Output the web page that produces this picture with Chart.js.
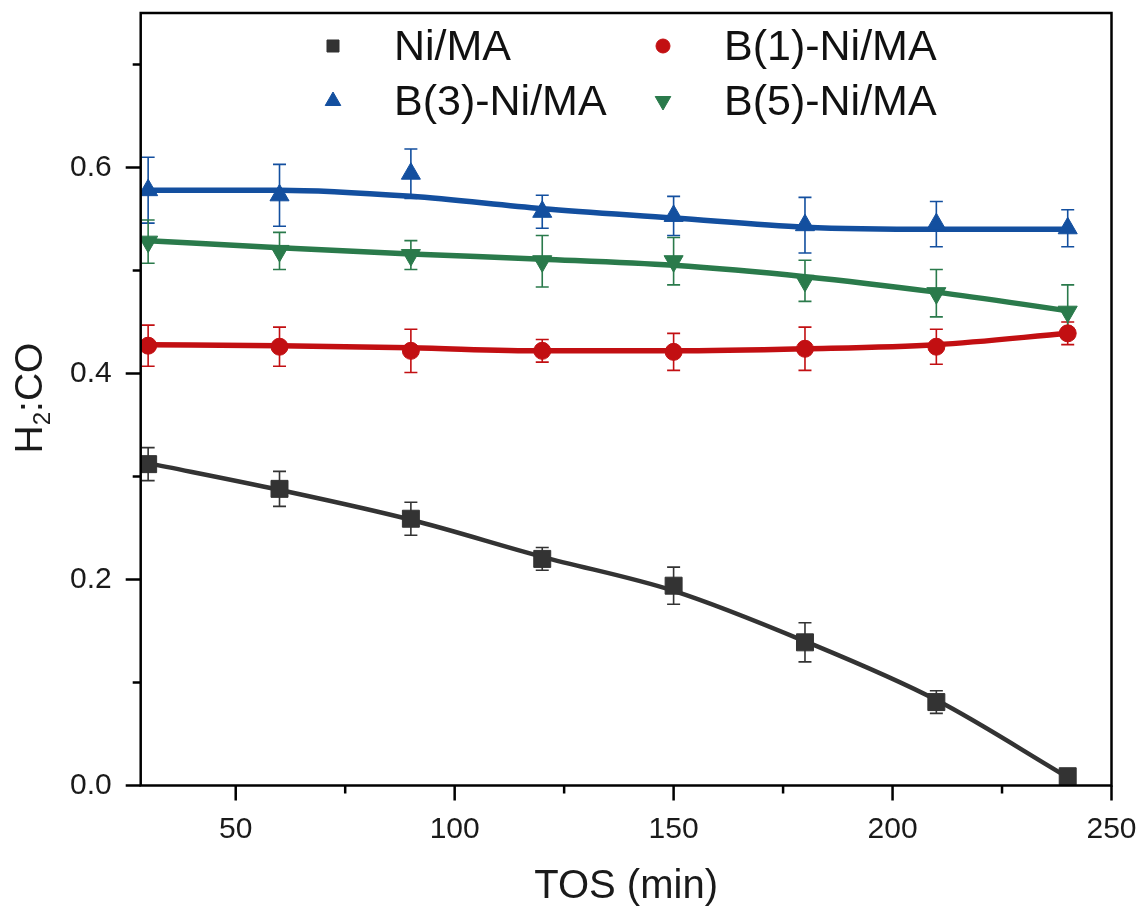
<!DOCTYPE html>
<html>
<head>
<meta charset="utf-8">
<script src="https://cdn.jsdelivr.net/npm/chart.js@4.4.1/dist/chart.umd.min.js"></script>
<style>
  html, body { margin: 0; padding: 0; background: #fff; }
  #wrap { width: 1147px; height: 907px; position: relative; }
</style>
</head>
<body>
<div id="wrap"><canvas id="chart"></canvas></div>
<script>
// time on stream (min)
const tos = [30, 60, 90, 120, 150, 180, 210, 240];

// H2:CO ratio, error and the smoothed line, per catalyst
const niMA    = [0.312, 0.288, 0.259, 0.220, 0.194, 0.139, 0.081, 0.009];
const niMAErr = [0.016, 0.017, 0.016, 0.011, 0.018, 0.019, 0.011, 0.003];
const niMAFit = [0.313, 0.287, 0.258, 0.222, 0.189, 0.140, 0.083, 0.008];

const b1    = [0.427, 0.426, 0.422, 0.422, 0.421, 0.424, 0.426, 0.439];
const b1Err = [0.020, 0.019, 0.021, 0.011, 0.018, 0.021, 0.017, 0.011];
const b1Fit = [0.428, 0.427, 0.425, 0.422, 0.422, 0.424, 0.428, 0.439];

const b3    = [0.578, 0.573, 0.594, 0.557, 0.553, 0.544, 0.545, 0.541];
const b3Err = [0.032, 0.030, 0.024, 0.016, 0.019, 0.027, 0.022, 0.018];
const b3Fit = [0.578, 0.578, 0.572, 0.560, 0.551, 0.542, 0.540, 0.540];

const b5    = [0.528, 0.519, 0.515, 0.509, 0.509, 0.490, 0.478, 0.460];
const b5Err = [0.021, 0.018, 0.014, 0.025, 0.023, 0.020, 0.023, 0.026];
const b5Fit = [0.529, 0.522, 0.516, 0.511, 0.505, 0.494, 0.479, 0.461];

const xTicks = [50, 100, 150, 200, 250];
const xMinor = [75, 125, 175, 225];
const yTicks = [0.0, 0.2, 0.4, 0.6];
const yMinor = [0.1, 0.3, 0.5, 0.7];

const FONT = "'Liberation Sans', Arial, sans-serif";

const series = [
  { label: "Ni/MA",      y: niMA, err: niMAErr, fit: niMAFit, color: "#333333", style: "rect",     rotation: 0,   radius: 12,  legendR: 8.5, width: 4.5 },
  { label: "B(1)-Ni/MA", y: b1,   err: b1Err,   fit: b1Fit,   color: "#c20f12", style: "circle",   rotation: 0,   radius: 8.5, legendR: 7,   width: 5.5 },
  { label: "B(3)-Ni/MA", y: b3,   err: b3Err,   fit: b3Fit,   color: "#134f9f", style: "triangle", rotation: 0,   radius: 11,  legendR: 9,   width: 5.5 },
  { label: "B(5)-Ni/MA", y: b5,   err: b5Err,   fit: b5Fit,   color: "#2a7a4b", style: "triangle", rotation: 180, radius: 11,  legendR: 9,   width: 5.5 }
];

function pts(arr) {
  return tos.map((x, i) => ({ x: x, y: arr[i] }));
}

const datasets = [];
series.forEach((s, i) => {
  datasets.push({
    label: s.label + " fit",
    data: pts(s.fit),
    borderColor: s.color,
    borderWidth: s.width,
    pointRadius: 0,
    cubicInterpolationMode: "monotone",
    fill: false,
    order: 13 - i,
    seriesIndex: i,
    isFit: true
  });
});
series.forEach((s, i) => {
  datasets.push({
    label: s.label,
    data: pts(s.y),
    showLine: false,
    pointStyle: s.style,
    rotation: s.rotation,
    pointRadius: s.radius,
    pointBackgroundColor: s.color,
    pointBorderColor: s.color,
    pointBorderWidth: 1,
    order: 3 - i
  });
});

// error bars drawn right after the fit line of the same series
const errorBars = {
  id: "errorBars",
  afterDatasetDraw(chart, args) {
    const ds = chart.data.datasets[args.index];
    if (!ds.isFit) return;
    const s = series[ds.seriesIndex];
    const xs = chart.scales.x, ys = chart.scales.y;
    const ctx = chart.ctx;
    ctx.save();
    ctx.strokeStyle = s.color;
    ctx.lineWidth = 1.6;
    tos.forEach((t, i) => {
      const px = xs.getPixelForValue(t);
      const top = ys.getPixelForValue(s.y[i] + s.err[i]);
      const bot = ys.getPixelForValue(s.y[i] - s.err[i]);
      ctx.beginPath();
      ctx.moveTo(px, top); ctx.lineTo(px, bot);
      ctx.moveTo(px - 6.5, top); ctx.lineTo(px + 6.5, top);
      ctx.moveTo(px - 6.5, bot); ctx.lineTo(px + 6.5, bot);
      ctx.stroke();
    });
    ctx.restore();
  }
};

// box, outward major/minor ticks, axis titles and the in-plot legend
const frame = {
  id: "frame",
  afterDraw(chart) {
    const ctx = chart.ctx;
    const a = chart.chartArea;
    const xs = chart.scales.x, ys = chart.scales.y;
    ctx.save();
    ctx.strokeStyle = "#000";
    ctx.lineWidth = 2.5;
    ctx.strokeRect(a.left, a.top, a.right - a.left, a.bottom - a.top);

    ctx.beginPath();
    xTicks.forEach(v => {
      const p = xs.getPixelForValue(v);
      ctx.moveTo(p, a.bottom); ctx.lineTo(p, a.bottom + 15);
    });
    xMinor.forEach(v => {
      const p = xs.getPixelForValue(v);
      ctx.moveTo(p, a.bottom); ctx.lineTo(p, a.bottom + 8);
    });
    yTicks.forEach(v => {
      const p = ys.getPixelForValue(v);
      ctx.moveTo(a.left, p); ctx.lineTo(a.left - 15, p);
    });
    yMinor.forEach(v => {
      const p = ys.getPixelForValue(v);
      ctx.moveTo(a.left, p); ctx.lineTo(a.left - 8, p);
    });
    ctx.stroke();

    // x title
    ctx.fillStyle = "#1a1a1a";
    ctx.font = "40px " + FONT;
    ctx.textAlign = "center";
    ctx.textBaseline = "alphabetic";
    ctx.fillText("TOS (min)", (a.left + a.right) / 2, 898);

    // y title with subscript
    ctx.save();
    ctx.translate(28, 398);
    ctx.rotate(-Math.PI / 2);
    ctx.textAlign = "left";
    const big = "39px " + FONT, small = "24px " + FONT;
    ctx.font = big;
    const wH = ctx.measureText("H").width;
    const wR = ctx.measureText(":CO").width;
    ctx.font = small;
    const w2 = ctx.measureText("2").width;
    let x0 = -(wH + w2 + wR) / 2;
    ctx.font = big;
    ctx.fillText("H", x0, 14);
    ctx.font = small;
    ctx.fillText("2", x0 + wH, 22);
    ctx.font = big;
    ctx.fillText(":CO", x0 + wH + w2, 14);
    ctx.restore();

    // legend
    const colX = [333, 663];
    const rowY = [46, 101];
    ctx.font = "43px " + FONT;
    ctx.textAlign = "left";
    ctx.textBaseline = "middle";
    series.forEach((s, i) => {
      const lx = colX[i % 2], ly = rowY[Math.floor(i / 2)];
      ctx.fillStyle = s.color;
      ctx.strokeStyle = s.color;
      ctx.lineWidth = 1;
      Chart.helpers.drawPoint(ctx, { pointStyle: s.style, rotation: s.rotation, radius: s.legendR, borderWidth: 1 }, lx, ly);
      ctx.fillStyle = "#111";
      ctx.fillText(s.label, lx + 61, ly + 2);
    });
    ctx.restore();
  }
};

function noPad(s) {
  s.paddingTop = 0;
  s.paddingBottom = 0;
  s.paddingLeft = 0;
  s.paddingRight = 0;
}

new Chart(document.getElementById("chart"), {
  type: "line",
  data: { datasets },
  plugins: [errorBars, frame],
  options: {
    responsive: true,
    maintainAspectRatio: false,
    animation: false,
    layout: { padding: { left: 0, right: 35.5, top: 13, bottom: 0 } },
    plugins: {
      legend: { display: false },
      tooltip: { enabled: false }
    },
    scales: {
      x: {
        type: "linear",
        min: 28.3,
        max: 250,
        grid: { display: false, drawTicks: false },
        border: { display: false },
        afterBuildTicks: s => { s.ticks = xTicks.map(v => ({ value: v })); },
        afterFit: s => { s.height = 121.5; noPad(s); },
        ticks: {
          font: { family: FONT, size: 30 },
          color: "#1a1a1a",
          padding: 26,
          maxRotation: 0,
          autoSkip: false
        }
      },
      y: {
        type: "linear",
        min: 0,
        max: 0.75,
        grid: { display: false, drawTicks: false },
        border: { display: false },
        afterBuildTicks: s => { s.ticks = yTicks.map(v => ({ value: v })); },
        afterFit: s => { s.width = 140.7; noPad(s); },
        ticks: {
          font: { family: FONT, size: 30 },
          color: "#1a1a1a",
          padding: 29,
          callback: v => Number(v).toFixed(1)
        }
      }
    }
  }
});
</script>
</body>
</html>
